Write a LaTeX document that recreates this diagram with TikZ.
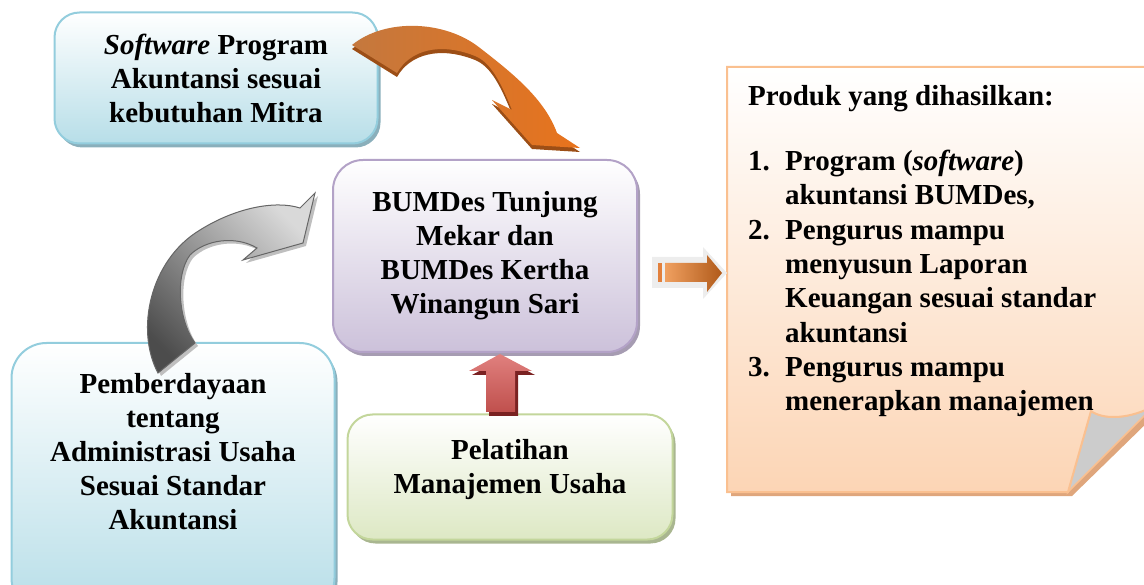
\documentclass[tikz,border=0pt]{standalone}
\usepackage{fontspec}
\setmainfont{Liberation Serif}
\usetikzlibrary{shadows}
\definecolor{blueline}{HTML}{93CDDD}
\definecolor{bluefill}{HTML}{B7DEE8}
\definecolor{blueshadow}{HTML}{8AAFBB}
\definecolor{purpleline}{HTML}{B3A2C7}
\definecolor{purplefill}{HTML}{CCC1DA}
\definecolor{purpleshadow}{HTML}{A69CB2}
\definecolor{greenline}{HTML}{C3D69B}
\definecolor{greenfill}{HTML}{DDE8C4}
\definecolor{greenshadow}{HTML}{A9B690}
\definecolor{orangeline}{HTML}{FAC090}
\definecolor{orangefill}{HTML}{FCD5B5}
\definecolor{orangeshadow}{HTML}{DFA67C}
\definecolor{curvetail}{HTML}{C4783E}
\definecolor{curvehead}{HTML}{E8731C}
\definecolor{curveshadow}{HTML}{9C4E16}
\definecolor{redlight}{HTML}{E0807E}
\definecolor{reddark}{HTML}{C0504D}
\definecolor{redshadow}{HTML}{7A2222}
\definecolor{rightlight}{HTML}{F0A060}
\definecolor{rightdark}{HTML}{B05A1A}
\definecolor{rightbar}{HTML}{E2803C}
\tikzset{
	boxtext/.style={align=center, inner sep=0pt, font=\fontsize{29}{34}\selectfont\bfseries},
	bluebox/.style={draw=blueline, line width=2pt, top color=white, bottom color=bluefill,
		drop shadow={fill=blueshadow, opacity=1, shadow xshift=3pt, shadow yshift=-4pt}},
	purplebox/.style={draw=purpleline, line width=2pt, top color=white, bottom color=purplefill,
		drop shadow={fill=purpleshadow, opacity=1, shadow xshift=3pt, shadow yshift=-4pt}},
	greenbox/.style={draw=greenline, line width=2pt, top color=white, bottom color=greenfill,
		drop shadow={fill=greenshadow, opacity=1, shadow xshift=3pt, shadow yshift=-4pt}}
}

\begin{document}
\begin{tikzpicture}[x=1pt, y=-1pt]
		\useasboundingbox (0,0) rectangle (1144,585);
		\clip (0,0) rectangle (1144,585);
		\node[bluebox, boxtext, rounded corners=25pt, minimum width=323pt, minimum height=131pt] (software) at (216,78) {\textit{Software} Program\\Akuntansi sesuai\\kebutuhan Mitra};
		\node[purplebox, boxtext, rounded corners=30pt, minimum width=304pt, minimum height=192pt] (bumdes) at (485,256) {BUMDes Tunjung\\Mekar dan\\BUMDes Kertha\\Winangun Sari};
		\node[bluebox, rounded corners=35pt, minimum width=323pt, minimum height=270pt] (pemberdayaanbox) at (173,478) {};
		\node[boxtext] (pemberdayaan) at (173,452) {Pemberdayaan\\tentang\\Administrasi Usaha\\Sesuai Standar\\Akuntansi};
		\node[greenbox, rounded corners=25pt, minimum width=325pt, minimum height=125pt] (pelatihanbox) at (510,477) {};
		\node[boxtext] (pelatihan) at (510,470) {Pelatihan\\Manajemen Usaha};
		\fill[orangeshadow] (731,71) -- (1154,71) -- (1154,416) -- (1072,496) -- (731,496) -- cycle;
		\filldraw[fill=black!20, draw=orangeline, line width=1.5pt] (1091,411) .. controls (1102,419) and (1125,420) .. (1150,408) -- (1150,410) -- (1068,492) -- cycle;
		\shade[top color=white, bottom color=orangefill] (727,67) -- (1150,67) -- (1150,408) .. controls (1125,420) and (1102,419) .. (1091,411) -- (1068,492) -- (727,492) -- cycle;
		\draw[orangeline, line width=2pt] (727,67) -- (1150,67) -- (1150,408) .. controls (1125,420) and (1102,419) .. (1091,411) -- (1068,492) -- (727,492) -- cycle;
		\node[anchor=north west, align=left, inner sep=0pt, font=\fontsize{29}{34.3}\selectfont\bfseries] (produk) at (748,85) {Produk yang dihasilkan:\\[31pt]
			\makebox[37pt][l]{1.}Program (\textit{software})\\
			\hspace*{37pt}akuntansi BUMDes,\\
			\makebox[37pt][l]{2.}Pengurus mampu\\
			\hspace*{37pt}menyusun Laporan\\
			\hspace*{37pt}Keuangan sesuai standar\\
			\hspace*{37pt}akuntansi\\
			\makebox[37pt][l]{3.}Pengurus mampu\\
			\hspace*{37pt}menerapkan manajemen};
		\fill[curveshadow] (352,49) .. controls (385,22) and (445,24) .. (480,52) .. controls (515,79) and (545,104) .. (557,137) -- (580,152) -- (532,149) -- (492,104) -- (512,114) .. controls (500,84) and (490,66) .. (475,60) .. controls (440,46) and (410,54) .. (397,77) -- cycle;
		\shade[left color=curvetail, right color=curvehead] (352,45) .. controls (385,18) and (445,20) .. (480,48) .. controls (515,75) and (545,100) .. (557,133) -- (580,148) -- (532,145) -- (492,100) -- (512,110) .. controls (500,80) and (490,62) .. (475,56) .. controls (440,42) and (410,50) .. (397,73) -- cycle;
		\fill[black!25] (161,376) .. controls (138,333) and (153,263) .. (203,233) .. controls (238,211) and (278,203) .. (303,211) -- (318,196) -- (306,246) -- (246,263) -- (260,251) .. controls (238,238) and (208,243) .. (193,258) .. controls (178,278) and (181,323) .. (198,346) -- cycle;
		\shade[top color=black!15, bottom color=black!70, shading angle=-45, draw=black!60, line width=1pt] (158,373) .. controls (135,330) and (150,260) .. (200,230) .. controls (235,208) and (275,200) .. (300,208) -- (315,193) -- (303,243) -- (243,260) -- (257,248) .. controls (235,235) and (205,240) .. (190,255) .. controls (175,275) and (178,320) .. (195,343) -- cycle;
		\fill[redshadow] (503,358) -- (535,375) -- (518,375) -- (518,416) -- (489,416) -- (489,375) -- (472,375) -- cycle;
		\shade[top color=redlight, bottom color=reddark] (500,354) -- (532,371) -- (515,371) -- (515,412) -- (486,412) -- (486,371) -- (469,371) -- cycle;
		\fill[black!7] (652,257) -- (703,257) -- (703,247) -- (727,273) -- (703,299) -- (703,288) -- (652,288) -- cycle;
		\fill[rightbar] (658,263) rectangle (662,282);
		\shade[left color=rightlight, right color=rightdark] (665,263) -- (707,263) -- (707,255) -- (722,273) -- (707,292) -- (707,282) -- (665,282) -- cycle;
\end{tikzpicture}
\end{document}
